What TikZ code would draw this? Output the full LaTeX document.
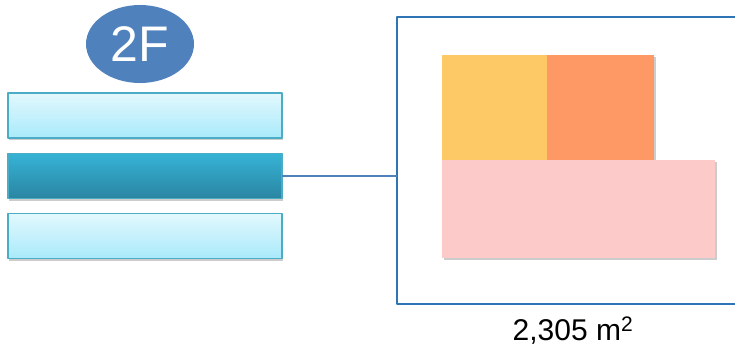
\documentclass[tikz,border=0pt]{standalone}
\usepackage{fontspec}
\setmainfont{Liberation Sans}
\usetikzlibrary{shapes.geometric,shadows}
\definecolor{floorblue}{HTML}{4F81BD}
\definecolor{barline}{HTML}{4BACC6}
\definecolor{barlt}{HTML}{E2F8FD}
\definecolor{barlb}{HTML}{A9EAFB}
\definecolor{bardt}{HTML}{36B2D6}
\definecolor{bardb}{HTML}{2A86A2}
\definecolor{planline}{HTML}{2E75B6}
\definecolor{roomyellow}{HTML}{FDC967}
\definecolor{roomorange}{HTML}{FE9966}
\definecolor{roompink}{HTML}{FDCACA}
\begin{document}
\begin{tikzpicture}[x=1pt,y=-1pt,line join=round,
  bar/.style={rectangle,draw=barline,line width=1.2pt,minimum width=274pt,minimum height=45pt,inner sep=0pt,outer sep=0pt,drop shadow={shadow xshift=1pt,shadow yshift=-2pt,opacity=0.4}},
  lightbar/.style={bar,top color=barlt,bottom color=barlb},
  darkbar/.style={bar,top color=bardt,bottom color=bardb},
  room/.style={rectangle,inner sep=0pt,outer sep=0pt,drop shadow={shadow xshift=1.5pt,shadow yshift=-2pt,opacity=0.4}}]
\useasboundingbox (0,0) rectangle (735,349);
\def\bx{145}
\node[ellipse,fill=floorblue,minimum width=108pt,minimum height=78pt,inner sep=0pt,text=white,font=\fontsize{50}{50}\selectfont] (floor) at (140,44) {2F};
\node[lightbar] (bar1) at (\bx,115.5) {};
\node[darkbar] (bar2) at (\bx,176) {};
\node[lightbar] (bar3) at (\bx,236) {};
\node[rectangle,draw=planline,line width=1.2pt,minimum width=352pt,minimum height=287pt,inner sep=0pt,outer sep=0pt] (plan) at (573,160.5) {};
\node[room,fill=roomyellow,minimum width=105pt,minimum height=105pt] (roomA) at (494.5,107.5) {};
\node[room,fill=roomorange,minimum width=107pt,minimum height=105pt] (roomB) at (600.5,107.5) {};
\node[room,fill=roompink,minimum width=273pt,minimum height=98pt] (roomC) at (578.5,209) {};
\node[font=\fontsize{30}{30}\selectfont] (area) at (573,331) {2,305 m\textsuperscript{2}};
\draw[floorblue,line width=1.2pt] (bar2.east) -- (bar2.east -| plan.west);
\end{tikzpicture}
\end{document}
